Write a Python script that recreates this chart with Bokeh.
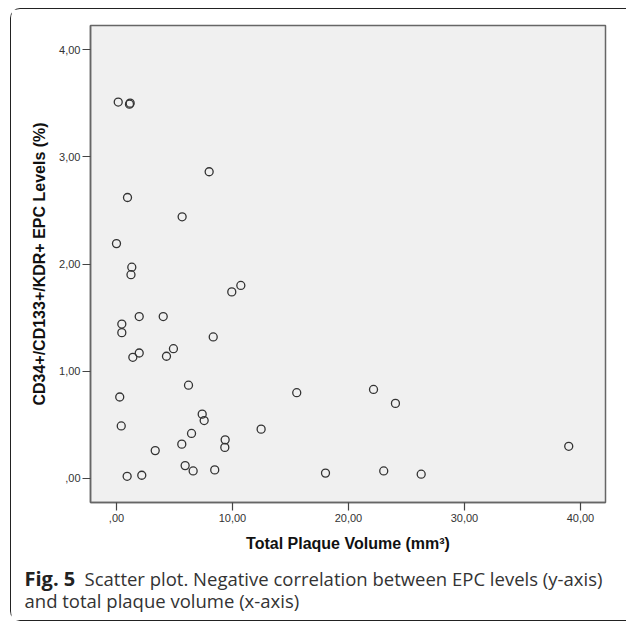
from bokeh.plotting import figure
from bokeh.layouts import column
from bokeh.models import Range1d, FixedTicker
from bokeh.core.properties import value
from bokeh.embed import file_html
from bokeh.resources import INLINE

# Data
plaque_volume = [0.15, 1.18, 1.12, 7.99, 0.95, 5.66, 0.00, 1.32, 1.25, 10.72,
                 9.94, 1.96, 4.03, 0.46, 0.46, 8.34, 4.91, 1.96, 1.41, 4.31,
                 6.21, 0.28, 7.39, 7.56, 0.41, 6.47, 12.47, 9.37, 9.34, 3.34,
                 5.63, 5.92, 6.61, 8.47, 0.92, 2.18, 15.54, 22.16, 24.05, 38.99,
                 18.02, 23.04, 26.27]
epc_levels = [3.51, 3.50, 3.49, 2.86, 2.62, 2.44, 2.19, 1.97, 1.90, 1.80,
              1.74, 1.51, 1.51, 1.44, 1.36, 1.32, 1.21, 1.17, 1.13, 1.14,
              0.87, 0.76, 0.60, 0.54, 0.49, 0.42, 0.46, 0.36, 0.29, 0.26,
              0.32, 0.12, 0.07, 0.08, 0.02, 0.03, 0.80, 0.83, 0.70, 0.30,
              0.05, 0.07, 0.04]

x_ticks = [0, 10, 20, 30, 40]
x_tick_labels = [",00", "10,00", "20,00", "30,00", "40,00"]
y_ticks = [0, 1, 2, 3, 4]
y_tick_labels = [",00", "1,00", "2,00", "3,00", "4,00"]

x_title = "Total Plaque Volume (mm³)"
y_title = "CD34+/CD133+/KDR+ EPC Levels (%)"
caption_bold = "Fig. 5"
caption_line1 = "Scatter plot. Negative correlation between EPC levels (y-axis)"
caption_line2 = "and total plaque volume (x-axis)"

FIG_W = 615

p = figure(frame_width=515, frame_height=477, width=FIG_W, height=550,
           x_range=Range1d(-2.24, 42.16), y_range=Range1d(-0.224, 4.224),
           output_backend="svg", toolbar_location=None,
           min_border_left=79, min_border_right=21,
           min_border_top=16, min_border_bottom=57)
p.frame_align = False

p.background_fill_color = "#f0f0f0"
p.border_fill_color = "white"
p.outline_line_color = "#666666"
p.outline_line_width = 1.5
p.xgrid.visible = False
p.ygrid.visible = False

p.scatter(plaque_volume, epc_levels, marker="circle", size=8,
          fill_color=None, line_color="#333333", line_width=1.3)

for ax, ticks, labels in ((p.xaxis[0], x_ticks, x_tick_labels),
                          (p.yaxis[0], y_ticks, y_tick_labels)):
    ax.ticker = FixedTicker(ticks=ticks)
    ax.major_label_overrides = {t: l for t, l in zip(ticks, labels)}
    ax.minor_tick_line_color = None
    ax.major_tick_out = 8
    ax.major_tick_in = 0
    ax.major_tick_line_color = "#444444"
    ax.major_tick_line_width = 1.2
    ax.axis_line_color = "#666666"
    ax.axis_line_width = 1.5
    ax.major_label_text_font = "Liberation Sans"
    ax.major_label_text_font_size = "11px"
    ax.major_label_text_color = "#333333"
    ax.axis_label_text_font = "Liberation Sans"
    ax.axis_label_text_font_size = "16px"
    ax.axis_label_text_font_style = "bold"
    ax.axis_label_text_color = "#111111"

p.xaxis[0].axis_label = x_title
p.yaxis[0].axis_label = y_title
p.xaxis[0].major_label_standoff = 3
p.xaxis[0].axis_label_standoff = 10
p.yaxis[0].major_label_standoff = 2
p.yaxis[0].axis_label_standoff = 8

# Caption panel (pixel-like ranges, y measured from top)
CAP_H = 61
cap = figure(width=FIG_W, height=CAP_H, x_range=Range1d(0, FIG_W),
             y_range=Range1d(CAP_H, 0), x_axis_type=None, y_axis_type=None,
             output_backend="svg", toolbar_location=None,
             min_border=0, outline_line_color=None)
cap.frame_align = False
cap.xgrid.visible = False
cap.ygrid.visible = False
cap.background_fill_color = "white"
cap.border_fill_color = "white"

cap_font = value("Open Sans")
cap.text(x=[13], y=[19], text=[caption_bold], text_font=cap_font,
         text_font_style="bold", text_font_size="20px",
         text_baseline="middle", text_color="#222222")
cap.text(x=[73], y=[19], text=[caption_line1], text_font=cap_font,
         text_font_size="18.5px", text_baseline="middle", text_color="#333333")
cap.text(x=[13], y=[41], text=[caption_line2], text_font=cap_font,
         text_font_size="18.5px", text_baseline="middle", text_color="#333333")

layout = column(p, cap, spacing=0, styles={
    "margin-left": "10px",
    "margin-top": "8px",
    "border-left": "1.5px solid #222222",
    "border-top": "1.5px solid #222222",
    "border-bottom": "1.5px solid #222222",
    "border-right": "none",
    "border-radius": "10px 0 0 10px",
})

open("out.html", "w").write(file_html(layout, INLINE))
